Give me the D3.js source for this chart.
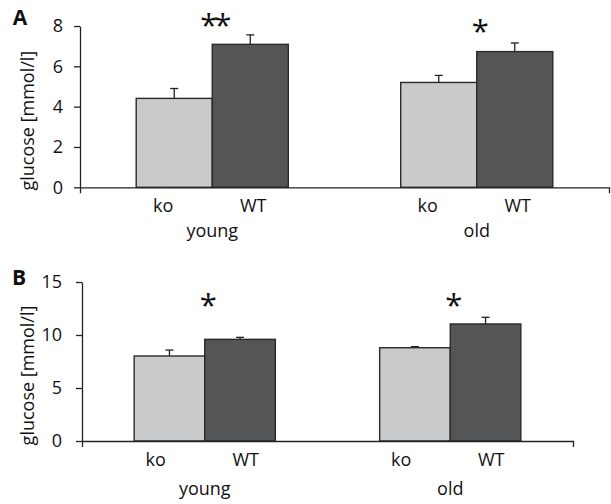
<!DOCTYPE html>
<html>
<head>
<meta charset="utf-8">
<script src="https://cdn.jsdelivr.net/npm/d3@7"></script>
<style>
  body { margin: 0; background: #fff; }
  svg text { font-family: "Open Sans", sans-serif; fill: #111; }
  .axis path, .axis line { stroke: #222; stroke-width: 1.3; }
</style>
</head>
<body>
<div id="chart"></div>
<script>
// ---- data ----
const groups = ["young", "old"];
const genotypes = ["ko", "WT"];
const colors = ["#c9cacc", "#545557"];

// panel A: means and SEM per group [ko, WT]
const meansA = [[4.41, 7.09], [5.2, 6.73]];
const errA = [[0.49, 0.47], [0.35, 0.43]];
const ticksA = [0, 2, 4, 6, 8];
const starsA = ["**", "*"];
const starLevelA = [8.4, 8.1];

// panel B
const meansB = [[8.02, 9.59], [8.8, 11.04]];
const errB = [[0.56, 0.19], [0.1, 0.63]];
const ticksB = [0, 5, 10, 15];
const starsB = ["*", "*"];
const starLevelB = [13.5, 13.5];

const w = 611, h = 504;
const svg = d3.select("#chart").append("svg")
  .attr("width", w)
  .attr("height", h);

function makePanel(opt) {
  const g = svg.append("g");

  const x = d3.scaleBand()
    .domain(groups)
    .range([opt.left, opt.right]);

  const xs = d3.scaleBand()
    .domain(genotypes)
    .range([0, x.bandwidth()])
    .paddingOuter(0.739);

  const y = d3.scaleLinear()
    .domain([0, d3.max(opt.ticks)])
    .range([opt.bottom, opt.top]);

  // bars
  const grp = g.selectAll("g.grp")
    .data(groups)
    .enter()
    .append("g")
    .attr("transform", d => `translate(${x(d)},0)`);

  grp.each(function (grpName, gi) {
    const sel = d3.select(this);
    genotypes.forEach((gt, ti) => {
      const v = opt.means[gi][ti];
      const e = opt.err[gi][ti];
      const cx = xs(gt) + xs.bandwidth() / 2;
      // error bar (upper only)
      sel.append("line")
        .attr("x1", cx).attr("x2", cx)
        .attr("y1", y(v)).attr("y2", y(v + e))
        .attr("stroke", "#222").attr("stroke-width", 1.3);
      sel.append("line")
        .attr("x1", cx - 4).attr("x2", cx + 4)
        .attr("y1", y(v + e)).attr("y2", y(v + e))
        .attr("stroke", "#222").attr("stroke-width", 1.3);
      sel.append("rect")
        .attr("x", xs(gt))
        .attr("y", y(v))
        .attr("width", xs.bandwidth())
        .attr("height", y(0) - y(v))
        .attr("fill", colors[ti])
        .attr("stroke", "#2a2a2a")
        .attr("stroke-width", 1.4);
    });
    // genotype labels
    sel.append("text")
      .attr("x", x.bandwidth() / 2 - 49)
      .attr("y", opt.bottom + opt.subDy)
      .attr("text-anchor", "middle")
      .attr("font-size", 18)
      .text(genotypes[0]);
    sel.append("text")
      .attr("x", x.bandwidth() / 2 + 41)
      .attr("y", opt.bottom + opt.subDy)
      .attr("text-anchor", "middle")
      .attr("font-size", 18)
      .text(genotypes[1]);
    // group label
    sel.append("text")
      .attr("x", x.bandwidth() / 2)
      .attr("y", opt.bottom + opt.grpDy)
      .attr("text-anchor", "middle")
      .attr("font-size", 18)
      .text(grpName);
    // significance stars
    sel.append("text")
      .attr("x", x.bandwidth() / 2 + 2)
      .attr("y", y(opt.starLevel[gi]) + 18)
      .attr("text-anchor", "middle")
      .attr("font-size", 31)
      .attr("letter-spacing", -3)
      .text(opt.stars[gi]);
  });

  // axes
  g.append("g")
    .attr("class", "axis")
    .attr("transform", `translate(${opt.left},0)`)
    .call(d3.axisLeft(y).tickValues(opt.ticks).tickSize(6).tickSizeOuter(0).tickPadding(opt.tickPad))
    .call(a => a.selectAll("text").attr("font-size", 18).attr("font-family", "Open Sans").attr("fill", "#111"));

  g.append("g")
    .attr("class", "axis")
    .attr("transform", `translate(0,${opt.bottom})`)
    .call(d3.axisBottom(x).tickValues([]).tickSizeOuter(6));

  // y label
  g.append("text")
    .attr("transform", "rotate(-90)")
    .attr("x", -(opt.top + opt.bottom) / 2 - 14)
    .attr("y", 34)
    .attr("text-anchor", "middle")
    .attr("font-size", 18)
    .text("glucose [mmol/l]");

  // panel letter
  g.append("text")
    .attr("x", opt.letterX)
    .attr("y", opt.letterY)
    .attr("text-anchor", "middle")
    .attr("font-size", 21)
    .attr("font-weight", "bold")
    .text(opt.letter);
}

makePanel({
  letter: "A", letterX: 20, letterY: 25,
  left: 80, right: 609, top: 26, bottom: 187.3,
  ticks: ticksA, means: meansA, err: errA,
  stars: starsA, starLevel: starLevelA,
  tickPad: 11, subDy: 25, grpDy: 50
});

makePanel({
  letter: "B", letterX: 19, letterY: 285,
  left: 82, right: 573, top: 282, bottom: 441,
  ticks: ticksB, means: meansB, err: errB,
  stars: starsB, starLevel: starLevelB,
  tickPad: 14, subDy: 25, grpDy: 54
});
</script>
</body>
</html>
